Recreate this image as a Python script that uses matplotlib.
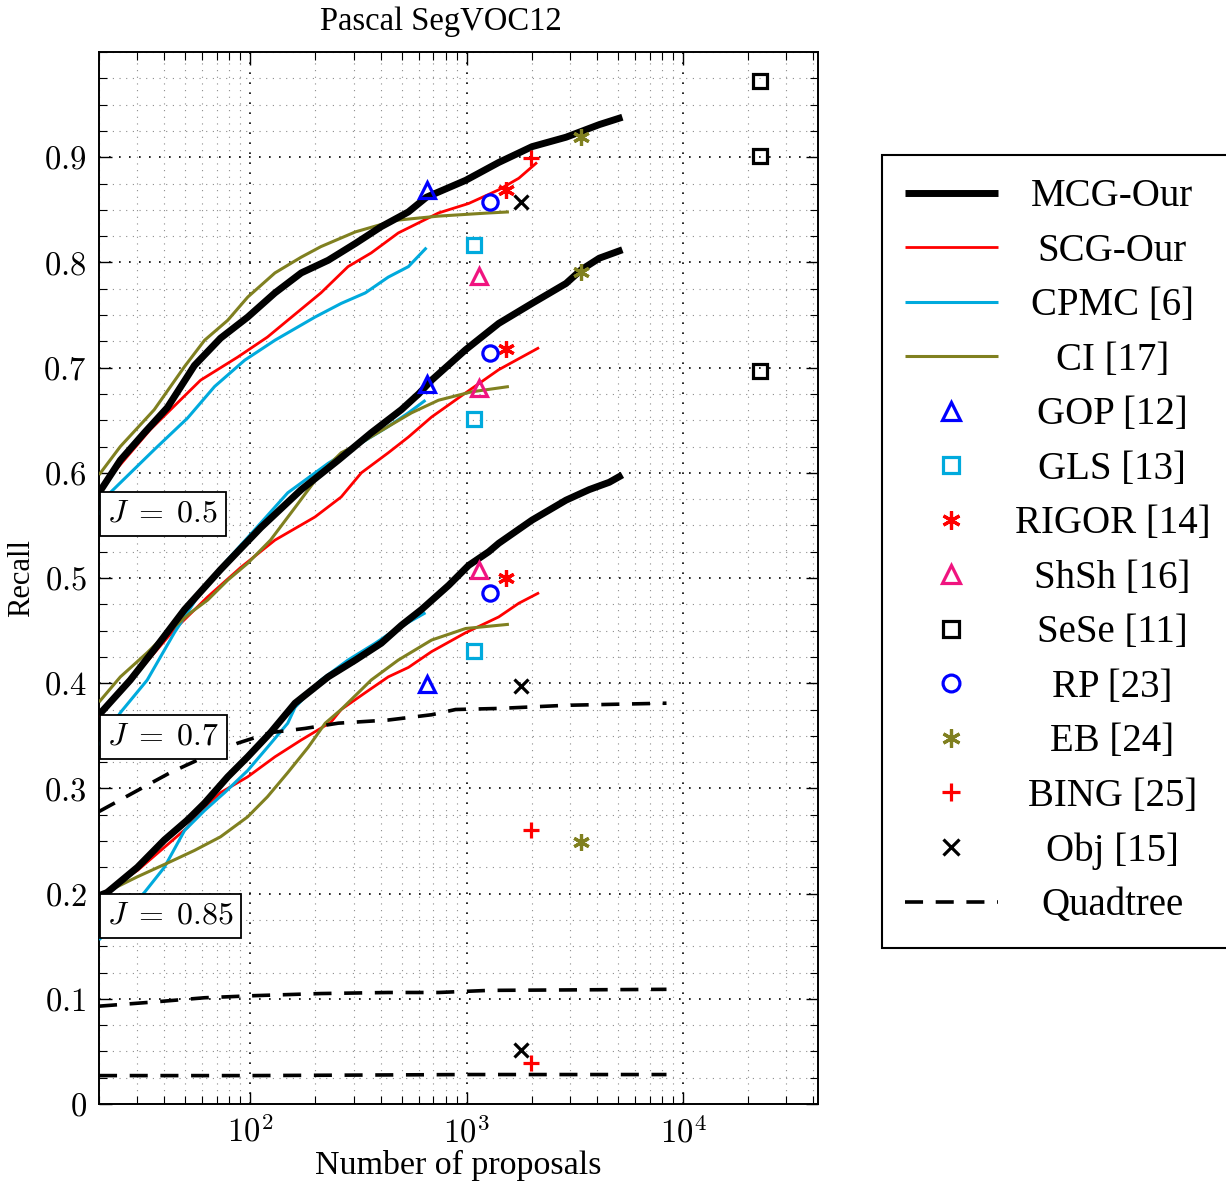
import matplotlib
matplotlib.use("Agg")
import matplotlib.pyplot as plt
from matplotlib.ticker import LogLocator, MultipleLocator, NullFormatter
from matplotlib.transforms import Affine2D

plt.rcParams['font.family'] = ['Liberation Serif', 'DejaVu Serif']
plt.rcParams['mathtext.fontset'] = 'cm'

# ---- curves (number of proposals, recall) for J = 0.5 / 0.7 / 0.85 ----
mcg_x_05 = [20, 25.1, 32.4, 41.4, 55.2, 72.9, 97.3, 130, 172, 229, 306, 403, 538, 652, 989, 1406, 2003, 2878, 4100, 5240]
mcg_y_05 = [0.581, 0.612, 0.638, 0.662, 0.702, 0.728, 0.748, 0.771, 0.790, 0.802, 0.818, 0.834, 0.848, 0.862, 0.878, 0.895, 0.910, 0.919, 0.931, 0.938]
mcg_x_07 = [20, 27.9, 36.0, 49.7, 72.9, 112, 172, 255, 362, 499, 600, 688, 989, 1406, 2003, 2878, 3383, 4100, 5240]
mcg_y_07 = [0.370, 0.403, 0.432, 0.470, 0.508, 0.548, 0.584, 0.612, 0.638, 0.660, 0.675, 0.688, 0.717, 0.742, 0.761, 0.780, 0.793, 0.804, 0.812]
mcg_x_085 = [20, 21.8, 30.1, 40.1, 51.3, 61.5, 78.7, 97.3, 124, 161, 229, 306, 403, 499, 618, 825, 1021, 1265, 1406, 2003, 2878, 3680, 4560, 5240]
mcg_y_085 = [0.198, 0.201, 0.225, 0.251, 0.270, 0.286, 0.311, 0.330, 0.353, 0.381, 0.406, 0.422, 0.438, 0.455, 0.470, 0.493, 0.512, 0.525, 0.533, 0.555, 0.574, 0.584, 0.591, 0.598]

scg_x_05 = [20, 34.5, 58.9, 87.5, 120, 149, 212, 283, 362, 483, 741, 1021, 1406, 1741, 2113]
scg_y_05 = [0.584, 0.641, 0.688, 0.710, 0.729, 0.745, 0.771, 0.796, 0.809, 0.828, 0.847, 0.856, 0.869, 0.880, 0.895]
scg_x_07 = [20, 30.1, 44.6, 63.5, 90.3, 130, 199, 263, 326, 434, 538, 688, 989, 1406, 2160]
scg_y_07 = [0.368, 0.410, 0.451, 0.482, 0.510, 0.536, 0.558, 0.577, 0.600, 0.619, 0.634, 0.653, 0.676, 0.698, 0.719]
scg_x_085 = [20, 30.1, 40.1, 51.3, 61.5, 72.9, 97.3, 130, 172, 236, 263, 340, 434, 538, 688, 989, 1406, 1741, 2160]
scg_y_085 = [0.198, 0.222, 0.244, 0.263, 0.282, 0.296, 0.311, 0.330, 0.346, 0.363, 0.375, 0.391, 0.406, 0.415, 0.430, 0.448, 0.463, 0.476, 0.486]

cpmc_x_05 = [20, 22.5, 36.0, 51.3, 68.4, 94.2, 130, 199, 263, 340, 434, 538, 652]
cpmc_y_05 = [0.560, 0.581, 0.622, 0.652, 0.682, 0.707, 0.726, 0.748, 0.761, 0.771, 0.786, 0.796, 0.814]
cpmc_x_07 = [20, 25.1, 33.4, 44.6, 57.1, 72.9, 105, 149, 229, 306, 434, 538, 645]
cpmc_y_07 = [0.341, 0.372, 0.403, 0.448, 0.482, 0.510, 0.546, 0.581, 0.609, 0.625, 0.644, 0.657, 0.669]
cpmc_x_085 = [20, 32.4, 40.1, 49.7, 61.5, 76.1, 97.3, 120, 149, 161, 212, 283, 378, 469, 645]
cpmc_y_085 = [0.156, 0.201, 0.225, 0.260, 0.279, 0.296, 0.317, 0.339, 0.362, 0.377, 0.403, 0.422, 0.438, 0.451, 0.467]

ci_x_05 = [20, 25.1, 36.0, 49.7, 61.5, 78.7, 97.3, 130, 172, 212, 306, 469, 741, 1265, 1567]
ci_y_05 = [0.598, 0.625, 0.660, 0.701, 0.726, 0.745, 0.767, 0.790, 0.805, 0.815, 0.829, 0.840, 0.844, 0.847, 0.848]
ci_x_07 = [20, 25.1, 33.4, 41.4, 53.0, 63.5, 78.7, 97.3, 124, 161, 212, 263, 340, 434, 556, 741, 1055, 1567]
ci_y_07 = [0.382, 0.406, 0.429, 0.448, 0.467, 0.479, 0.498, 0.514, 0.536, 0.567, 0.600, 0.619, 0.631, 0.644, 0.657, 0.669, 0.677, 0.682]
ci_x_085 = [20, 30.1, 41.4, 55.2, 72.9, 97.3, 120, 149, 185, 222, 263, 362, 483, 688, 989, 1567]
ci_y_085 = [0.198, 0.216, 0.229, 0.241, 0.254, 0.273, 0.292, 0.315, 0.339, 0.362, 0.375, 0.403, 0.422, 0.441, 0.452, 0.456]

quad_x_05 = [20, 30.1, 42.7, 61.5, 87.5, 124, 179, 255, 434, 688, 889, 1406, 2878, 8380]
quad_y_05 = [0.278, 0.298, 0.315, 0.330, 0.343, 0.353, 0.357, 0.362, 0.365, 0.370, 0.375, 0.376, 0.379, 0.381]
quad_x_07 = [20, 36, 61.5, 105, 212, 434, 741, 1265, 8380]
quad_y_07 = [0.093, 0.097, 0.101, 0.103, 0.105, 0.106, 0.106, 0.108, 0.109]
quad_x_085 = [20, 100, 1000, 8380]
quad_y_085 = [0.027, 0.027, 0.028, 0.028]

# ---- single-point methods: one point per J (0.5, 0.7, 0.85) ----
gop_x, gop_y = [654, 654, 654], [0.869, 0.684, 0.399]
gls_x, gls_y = [1078, 1078, 1078], [0.817, 0.651, 0.431]
rigor_x, rigor_y = [1513, 1513, 1513], [0.869, 0.718, 0.500]
shsh_x, shsh_y = [1136, 1136, 1136], [0.787, 0.681, 0.508]
sese_x, sese_y = [22600, 22600, 22600], [0.972, 0.901, 0.697]
rp_x, rp_y = [1288, 1288, 1288], [0.857, 0.714, 0.486]
eb_x, eb_y = [3375, 3375, 3375], [0.919, 0.791, 0.249]
bing_x, bing_y = [1977, 1977, 1977], [0.899, 0.260, 0.039]
obj_x, obj_y = [1775, 1775, 1775], [0.857, 0.397, 0.051]

j_labels = [r'$J\;=\;0.5$', r'$J\;=\;0.7$', r'$J\;=\;0.85$']
j_box_top = [0.581, 0.369, 0.199]

RED = '#ff0000'
CYAN = '#00aadd'
OLIVE = '#808020'
BLUE = '#0000ff'
PINK = '#f0147f'

fig = plt.figure(figsize=(12.26, 11.84), dpi=100)
ax = fig.add_axes([99 / 1226, 1 - 1104 / 1184, 719 / 1226, 1052 / 1184])

curves = [
    ('MCG-Our', 'black', 5.0, [(mcg_x_05, mcg_y_05), (mcg_x_07, mcg_y_07), (mcg_x_085, mcg_y_085)]),
    ('SCG-Our', RED, 2.0, [(scg_x_05, scg_y_05), (scg_x_07, scg_y_07), (scg_x_085, scg_y_085)]),
    ('CPMC [6]', CYAN, 2.2, [(cpmc_x_05, cpmc_y_05), (cpmc_x_07, cpmc_y_07), (cpmc_x_085, cpmc_y_085)]),
    ('CI [17]', OLIVE, 2.2, [(ci_x_05, ci_y_05), (ci_x_07, ci_y_07), (ci_x_085, ci_y_085)]),
]
for name, col, lw, parts in curves:
    for i, (xs, ys) in enumerate(parts):
        ax.plot(xs, ys, color=col, lw=lw, label=name if i == 0 else None,
                solid_capstyle='butt', zorder=4 if name == 'MCG-Our' else 3)

asterisk = (6, 2, 0)
points = [
    ('GOP [12]', gop_x, gop_y, '^', BLUE, 12),
    ('GLS [13]', gls_x, gls_y, 's', CYAN, 10),
    ('RIGOR [14]', rigor_x, rigor_y, asterisk, RED, 12),
    ('ShSh [16]', shsh_x, shsh_y, '^', PINK, 12),
    ('SeSe [11]', sese_x, sese_y, 's', 'black', 10),
    ('RP [23]', rp_x, rp_y, 'o', BLUE, 11),
    ('EB [24]', eb_x, eb_y, asterisk, OLIVE, 12),
    ('BING [25]', bing_x, bing_y, '+', RED, 12),
    ('Obj [15]', obj_x, obj_y, 'x', 'black', 10),
]
for name, xs, ys, m, col, ms in points:
    ax.plot(xs, ys, ls='none', marker=m, ms=ms, mfc='none', mec=col,
            mew=2.3, label=name, zorder=5)

for i, (xs, ys) in enumerate([(quad_x_05, quad_y_05), (quad_x_07, quad_y_07), (quad_x_085, quad_y_085)]):
    ax.plot(xs, ys, color='black', lw=2.6, ls=(0, (5, 3.5)),
            label='Quadtree' if i == 0 else None, zorder=3)

ax.set_xscale('log')
ax.set_xlim(20, 42000)
ax.set_ylim(0, 1)
ax.set_xticks([100, 1000, 10000])
ax.set_xticklabels([r'$10^{2}$', r'$10^{3}$', r'$10^{4}$'])
ax.xaxis.set_minor_locator(LogLocator(base=10, subs=range(2, 10), numticks=20))
ax.xaxis.set_minor_formatter(NullFormatter())
yt = [0, 0.1, 0.2, 0.3, 0.4, 0.5, 0.6, 0.7, 0.8, 0.9]
ax.set_yticks(yt)
ax.set_yticklabels([r'$0$'] + [r'$%.1f$' % v for v in yt[1:]])
ax.yaxis.set_minor_locator(MultipleLocator(0.025))
ax.tick_params(which='both', direction='in', top=True, right=True, labelsize=23.5)
ax.tick_params(which='major', length=9, width=1)
ax.tick_params(which='minor', length=6, width=0.8)
ax.tick_params(axis='x', pad=9)
ax.tick_params(axis='y', pad=9)
ax.grid(which='major', ls=(0, (1, 5)), color='black', lw=1.2)
ax.grid(which='minor', ls=(0, (1, 5)), color='0.55', lw=0.8)
ax.set_axisbelow(True)
for s in ax.spines.values():
    s.set_linewidth(1.4)

for lab, top in zip(j_labels, j_box_top):
    ax.annotate(lab, xy=(0, top), xycoords='axes fraction', xytext=(6, -5),
                textcoords='offset points', ha='left', va='top', fontsize=23,
                bbox=dict(boxstyle='square,pad=0.24', fc='white', ec='black', lw=1.3),
                zorder=6)

ax.set_xlabel('Number of proposals', fontsize=24.5)
ax.xaxis.set_label_coords(0.5, -0.044)
ax.set_ylabel('Recall', fontsize=22)
ax.yaxis.set_label_coords(-0.088, 0.5)
fig.text(441 / 1226, 1 - 22 / 1184, 'Pascal SegVOC12', ha='center', va='center', fontsize=23.5)

leg = fig.legend(loc='upper left', bbox_to_anchor=(882 / 1226, 1 - 155 / 1184),
                 fontsize=28, frameon=True, fancybox=False, framealpha=1,
                 edgecolor='black', borderpad=0.6, labelspacing=0.45,
                 handlelength=2.37, handletextpad=0.44, borderaxespad=0,
                 markerscale=1.1)
leg.get_frame().set_linewidth(1.5)

# centre the legend labels in their column, as in the original
fig.canvas.draw()
rend = fig.canvas.get_renderer()
texts = leg.get_texts()
widths = [t.get_window_extent(rend).width for t in texts]
wmax = max(widths)
for t, w in zip(texts, widths):
    t.set_transform(t.get_transform() + Affine2D().translate((wmax - w) / 2, 0))

fig.savefig('out.png', dpi=100)
